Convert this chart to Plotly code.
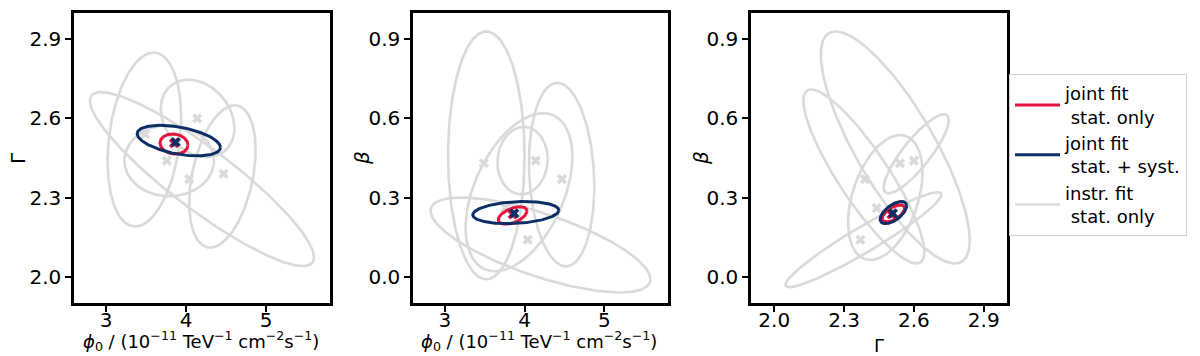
import numpy as np
import plotly.graph_objects as go

# best-fit values per instrument (A..E)
inst_phi0 = [3.49, 4.14, 3.76, 4.04, 4.47]
inst_gamma = [2.54, 2.60, 2.44, 2.37, 2.39]
inst_beta = [0.43, 0.44, 0.26, 0.14, 0.37]

# joint fit best-fit values
joint_phi0 = 3.87
joint_gamma = 2.51
joint_beta = 0.24

# contours: centre x, centre y, half width, half height, correlation
ell_phi0_gamma = {
    "inst": [(3.48, 2.52, 0.46, 0.33, 0.25),
             (4.145, 2.60, 0.46, 0.147, -0.25),
             (3.79, 2.44, 0.56, 0.135, 0.0),
             (4.20, 2.37, 1.40, 0.33, -0.90),
             (4.455, 2.38, 0.415, 0.27, 0.37)],
    "stat": (3.85, 2.503, 0.175, 0.038, -0.1),
    "syst": (3.91, 2.516, 0.52, 0.058, -0.45),
}
ell_phi0_beta = {
    "inst": [(3.52, 0.46, 0.48, 0.47, 0.0),
             (3.975, 0.44, 0.315, 0.128, 0.05),
             (3.93, 0.32, 0.67, 0.30, 0.45),
             (4.20, 0.12, 1.38, 0.18, -0.72),
             (4.465, 0.387, 0.41, 0.348, -0.13)],
    "stat": (3.85, 0.232, 0.18, 0.033, 0.5),
    "syst": (3.89, 0.243, 0.54, 0.042, 0.2),
}
ell_gamma_beta = {
    "inst": [(2.52, 0.49, 0.32, 0.44, -0.80),
             (2.61, 0.466, 0.14, 0.15, 0.85),
             (2.477, 0.30, 0.16, 0.237, 0.40),
             (2.383, 0.14, 0.335, 0.18, 0.95),
             (2.385, 0.38, 0.26, 0.33, -0.87)],
    "stat": (2.512, 0.24, 0.048, 0.032, 0.6),
    "syst": (2.512, 0.243, 0.057, 0.042, 0.6),
}

GRAY = "#dadada"
RED = "#e2163c"
BLUE = "#0b2f64"
FONT = "DejaVu Sans"


def ellipse(cx, cy, hw, hh, rho, n=240):
    t = np.linspace(0, 2 * np.pi, n)
    x = cx + hw * np.cos(t)
    y = cy + hh * (rho * np.cos(t) + np.sqrt(1 - rho ** 2) * np.sin(t))
    return x, y


fig = go.Figure()

panels = [
    (ell_phi0_gamma, inst_phi0, inst_gamma, joint_phi0, joint_gamma, "x", "y"),
    (ell_phi0_beta, inst_phi0, inst_beta, joint_phi0, joint_beta, "x2", "y2"),
    (ell_gamma_beta, inst_gamma, inst_beta, joint_gamma, joint_beta, "x3", "y3"),
]

legend_names = {"stat": "joint fit<br> stat. only",
                "syst": "joint fit<br> stat. + syst.",
                "inst": "instr. fit<br> stat. only"}

for i, (ells, mx, my, jx, jy, xa, ya) in enumerate(panels):
    first = i == 0
    for k, e in enumerate(ells["inst"]):
        ex, ey = ellipse(*e)
        fig.add_trace(go.Scatter(
            x=ex, y=ey, mode="lines", line=dict(color=GRAY, width=2.6),
            name=legend_names["inst"], legendgroup="inst", legendrank=3,
            showlegend=first and k == 0, xaxis=xa, yaxis=ya))
    fig.add_trace(go.Scatter(
        x=mx, y=my, mode="markers",
        marker=dict(symbol="x", size=9, color=GRAY, line=dict(width=0)),
        showlegend=False, xaxis=xa, yaxis=ya))
    ex, ey = ellipse(*ells["stat"])
    fig.add_trace(go.Scatter(
        x=ex, y=ey, mode="lines", line=dict(color=RED, width=3),
        name=legend_names["stat"], legendgroup="stat", legendrank=1,
        showlegend=first, xaxis=xa, yaxis=ya))
    ex, ey = ellipse(*ells["syst"])
    fig.add_trace(go.Scatter(
        x=ex, y=ey, mode="lines", line=dict(color=BLUE, width=3),
        name=legend_names["syst"], legendgroup="syst", legendrank=2,
        showlegend=first, xaxis=xa, yaxis=ya))
    fig.add_trace(go.Scatter(
        x=[jx - (0.02 if i < 2 else 0.006)], y=[jy - 0.004], mode="markers",
        marker=dict(symbol="x", size=9, color=RED, line=dict(width=0)),
        showlegend=False, xaxis=xa, yaxis=ya))
    fig.add_trace(go.Scatter(
        x=[jx], y=[jy], mode="markers",
        marker=dict(symbol="x", size=9, color=BLUE, line=dict(width=0)),
        showlegend=False, xaxis=xa, yaxis=ya))

phi_title = ("<i>ϕ</i><sub>0</sub> / (10<sup>−11</sup> TeV<sup>−1</sup> "
             "cm<sup>−2</sup>s<sup>−1</sup>)")

axis_common = dict(showline=True, mirror=True, linecolor="black", linewidth=2.5,
                   ticks="outside", ticklen=6, tickwidth=1.8, tickcolor="black",
                   showgrid=False, zeroline=False,
                   tickfont=dict(family=FONT, size=20, color="black"))
xaxis_common = dict(ticklabelstandoff=-9, **axis_common)

W, H = 1200, 356
ydom = [1 - 295 / H, 1 - 5 / H]

fig.update_layout(
    width=W, height=H,
    margin=dict(l=0, r=0, t=0, b=0),
    plot_bgcolor="white", paper_bgcolor="white",
    font=dict(family=FONT, size=20, color="black"),
    xaxis=dict(domain=[66 / W, 322 / W], range=[2.6, 5.8], tickvals=[3, 4, 5],
               anchor="y", **xaxis_common),
    yaxis=dict(domain=ydom, range=[1.9, 3.0], tickvals=[2.0, 2.3, 2.6, 2.9],
               tickformat=".1f", anchor="x", **axis_common),
    xaxis2=dict(domain=[405 / W, 660 / W], range=[2.6, 5.8], tickvals=[3, 4, 5],
                anchor="y2", **xaxis_common),
    yaxis2=dict(domain=ydom, range=[-0.1, 1.0], tickvals=[0.0, 0.3, 0.6, 0.9],
                tickformat=".1f", anchor="x2", **axis_common),
    xaxis3=dict(domain=[743 / W, 999 / W], range=[1.9, 3.0],
                tickvals=[2.0, 2.3, 2.6, 2.9], tickformat=".1f",
                anchor="y3", **xaxis_common),
    yaxis3=dict(domain=ydom, range=[-0.1, 1.0], tickvals=[0.0, 0.3, 0.6, 0.9],
                tickformat=".1f", anchor="x3", **axis_common),
    legend=dict(x=1001 / W, y=1 - 66 / H, xanchor="left", yanchor="top",
                bordercolor="#d0d0d0", borderwidth=1, bgcolor="white",
                font=dict(family=FONT, size=18, color="black"),
                itemwidth=45, tracegroupgap=0),
)

# axis titles placed as annotations
x_titles = [(193, 333, phi_title), (531, 333, phi_title), (871, 337, "Γ")]
for cx, cy, txt in x_titles:
    fig.add_annotation(text=txt, xref="paper", yref="paper", x=cx / W,
                       y=1 - cy / H, xanchor="center", yanchor="middle",
                       showarrow=False, font=dict(family=FONT, size=18))
y_titles = [(10, "Γ"), (354, "<i>β</i>"), (693, "<i>β</i>")]
for cx, txt in y_titles:
    fig.add_annotation(text=txt, xref="paper", yref="paper", x=cx / W,
                       y=1 - 150 / H, xanchor="center", yanchor="middle",
                       textangle=-90, showarrow=False,
                       font=dict(family=FONT, size=20))

fig.write_html("out.html")
